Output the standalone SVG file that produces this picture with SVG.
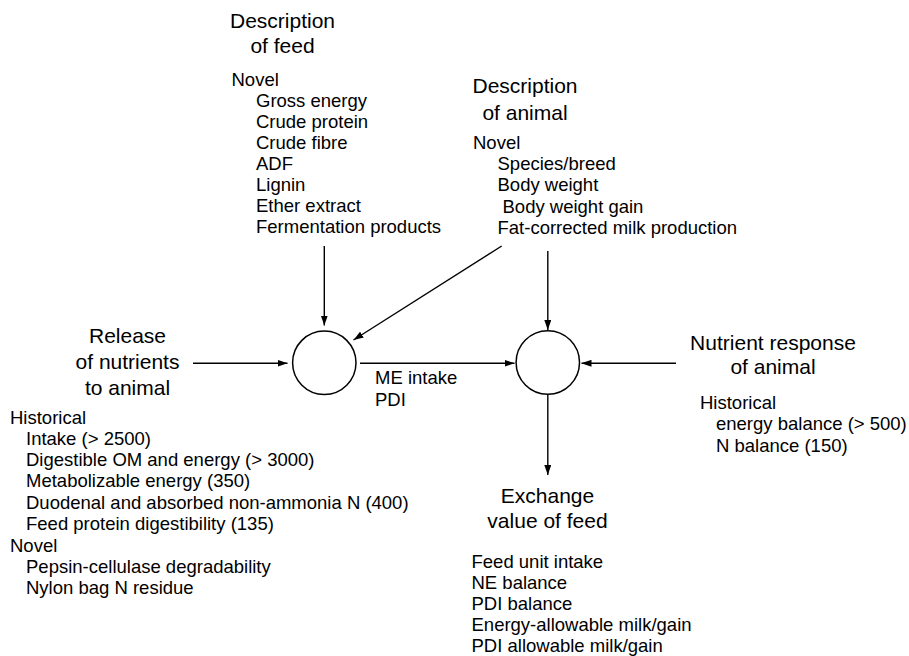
<svg xmlns="http://www.w3.org/2000/svg" width="909" height="656" viewBox="0 0 909 656">
<defs>
<style>
text{font-family:"Liberation Sans",Arial,sans-serif;fill:#000}
.t{font-size:21px}
.l{font-size:18.5px}
.c{text-anchor:middle}
.ln{stroke:#000;stroke-width:1.4;fill:none}
.circ{stroke:#000;stroke-width:1.5;fill:#fff}
</style>
<marker id="ah" viewBox="0 0 10 7" refX="10" refY="3.5" markerWidth="10" markerHeight="7" markerUnits="userSpaceOnUse" orient="auto">
<path d="M0,0 L10,3.5 L0,7 z" fill="#000"/>
</marker>
</defs>
<rect width="909" height="656" fill="#fff"/>

<g id="feed">
<text class="t c" x="282.5" y="28">Description</text>
<text class="t c" x="282.5" y="53">of feed</text>
<text class="l" x="231.5" y="86">Novel</text>
<text class="l" x="256" y="107">Gross energy</text>
<text class="l" x="256" y="128">Crude protein</text>
<text class="l" x="256" y="148.5">Crude fibre</text>
<text class="l" x="256" y="169.5">ADF</text>
<text class="l" x="256" y="190.5">Lignin</text>
<text class="l" x="256" y="211.5">Ether extract</text>
<text class="l" x="256" y="233">Fermentation products</text>
</g>

<g id="animal">
<text class="t c" x="525" y="93">Description</text>
<text class="t c" x="525" y="120">of animal</text>
<text class="l" x="473" y="149">Novel</text>
<text class="l" x="497.5" y="170">Species/breed</text>
<text class="l" x="497.5" y="191">Body weight</text>
<text class="l" x="502.5" y="212.5">Body weight gain</text>
<text class="l" x="497.5" y="234">Fat-corrected milk production</text>
</g>

<g id="release">
<text class="t c" x="127.5" y="343">Release</text>
<text class="t c" x="127.5" y="369">of nutrients</text>
<text class="t c" x="127.5" y="395">to animal</text>
<text class="l" x="10" y="424">Historical</text>
<text class="l" x="26" y="445">Intake (&gt; 2500)</text>
<text class="l" x="26" y="466">Digestible OM and energy (&gt; 3000)</text>
<text class="l" x="26" y="487">Metabolizable energy (350)</text>
<text class="l" x="26" y="508.5">Duodenal and absorbed non-ammonia N (400)</text>
<text class="l" x="26" y="530">Feed protein digestibility (135)</text>
<text class="l" x="10" y="551.5">Novel</text>
<text class="l" x="26" y="572.5">Pepsin-cellulase degradability</text>
<text class="l" x="26" y="594">Nylon bag N residue</text>
</g>

<g id="response">
<text class="t c" x="773" y="350">Nutrient response</text>
<text class="t c" x="773" y="374">of animal</text>
<text class="l" x="700" y="409">Historical</text>
<text class="l" x="716" y="430">energy balance (&gt; 500)</text>
<text class="l" x="716" y="451.5">N balance (150)</text>
</g>

<g id="exchange">
<text class="t c" x="547.5" y="503">Exchange</text>
<text class="t c" x="547.5" y="528">value of feed</text>
<text class="l" x="471.5" y="568">Feed unit intake</text>
<text class="l" x="471.5" y="589">NE balance</text>
<text class="l" x="471.5" y="610">PDI balance</text>
<text class="l" x="471.5" y="631">Energy-allowable milk/gain</text>
<text class="l" x="471.5" y="652">PDI allowable milk/gain</text>
</g>

<g id="node1"><circle class="circ" cx="324.3" cy="362.8" r="31.7"/></g>
<g id="node2"><circle class="circ" cx="547.8" cy="362.5" r="31.7"/></g>

<g id="connectors">
<line class="ln" x1="324.3" y1="246" x2="324.3" y2="325.5" marker-end="url(#ah)"/>
<line class="ln" x1="501.7" y1="246" x2="353.5" y2="340" marker-end="url(#ah)"/>
<line class="ln" x1="547.8" y1="251" x2="547.8" y2="330" marker-end="url(#ah)"/>
<line class="ln" x1="193" y1="363.3" x2="287.5" y2="363.3" marker-end="url(#ah)"/>
<line class="ln" x1="360" y1="363.3" x2="514.5" y2="363.3" marker-end="url(#ah)"/>
<line class="ln" x1="676" y1="363.3" x2="581.5" y2="363.3" marker-end="url(#ah)"/>
<line class="ln" x1="547.8" y1="394.5" x2="547.8" y2="475" marker-end="url(#ah)"/>
<text class="l" x="375" y="384">ME intake</text>
<text class="l" x="375" y="406">PDI</text>
</g>
</svg>
